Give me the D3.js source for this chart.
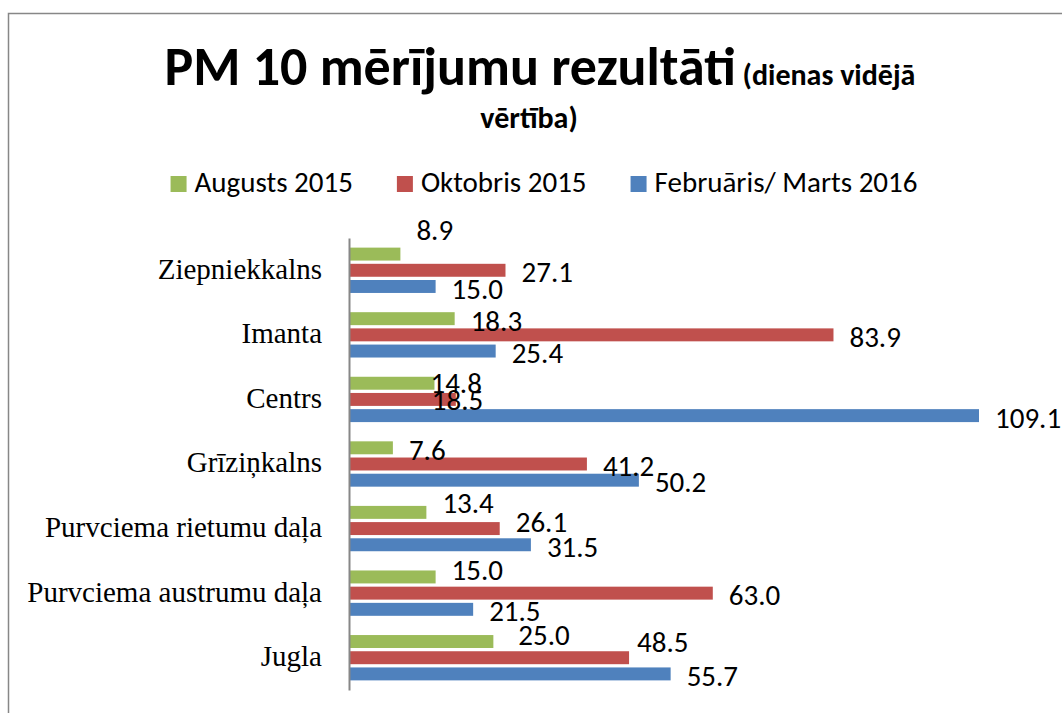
<!DOCTYPE html>
<html>
<head>
<meta charset="utf-8">
<script src="https://cdn.jsdelivr.net/npm/d3@7"></script>
<style>
  body { margin: 0; background: #fff; }
  svg { display: block; }
</style>
</head>
<body>
<svg id="chart"></svg>
<script>
// chart data
const categories = ["Ziepniekkalns", "Imanta", "Centrs", "Grīziņkalns",
  "Purvciema rietumu daļa", "Purvciema austrumu daļa", "Jugla"];
const seriesNames = ["Augusts 2015", "Oktobris 2015", "Februāris/ Marts 2016"];
const augusts = [8.9, 18.3, 14.8, 7.6, 13.4, 15.0, 25.0];
const oktobris = [27.1, 83.9, 18.5, 41.2, 26.1, 63.0, 48.5];
const februaris = [15.0, 25.4, 109.1, 50.2, 31.5, 21.5, 55.7];
const seriesValues = [augusts, oktobris, februaris];
const colors = ["#9BBB59", "#C0504D", "#4F81BD"];

// labels that were dragged away from the bar end in the original
const labelNudge = {
  "Ziepniekkalns|0": [16, -24],
  "Centrs|0": [-4, 0],
  "Centrs|1": [-24, 0],
  "Purvciema rietumu daļa|0": [16, -10],
  "Purvciema rietumu daļa|1": [16, -6.5],
  "Purvciema austrumu daļa|0": [16, -7],
  "Jugla|0": [25, -6.5],
  "Jugla|1": [8, -16]
};

const width = 1062;
const height = 713;
const sans = "Carlito, Calibri, Lato, sans-serif";
const serif = "'Times New Roman', 'Liberation Serif', serif";

const svg = d3.select("#chart")
  .attr("width", width)
  .attr("height", height);

// chart area border (runs past the right/bottom edges)
svg.append("rect")
  .attr("x", 8.5)
  .attr("y", 13.5)
  .attr("width", 1200)
  .attr("height", 900)
  .attr("fill", "none")
  .attr("stroke", "#878787")
  .attr("stroke-width", 1.5);

// title
const title = svg.append("text")
  .attr("x", 540)
  .attr("y", 85)
  .attr("text-anchor", "middle")
  .attr("font-family", sans)
  .attr("font-weight", "bold")
  .attr("fill", "#000");
title.append("tspan").attr("font-size", 54).text("PM 10 mērījumu rezultāti");
title.append("tspan").attr("font-size", 30).text(" (dienas vidējā");

svg.append("text")
  .attr("x", 529)
  .attr("y", 128)
  .attr("text-anchor", "middle")
  .attr("font-family", sans)
  .attr("font-weight", "bold")
  .attr("font-size", 30)
  .text("vērtība)");

// scales
const data = categories.map((c, i) => ({ cat: c, vals: seriesValues.map(s => s[i]) }));

const x = d3.scaleLinear()
  .domain([0, d3.max(seriesValues.flat())])
  .range([349, 979]);

const y = d3.scaleBand()
  .domain(categories)
  .range([238, 690]);

const yInner = d3.scaleBand()
  .domain(d3.range(seriesNames.length))
  .range([0, y.bandwidth()])
  .paddingInner(0.2)
  .paddingOuter(0.594);

// legend
const legend = svg.append("g").attr("font-family", sans).attr("font-size", 29);
const items = legend.selectAll("g")
  .data(seriesNames)
  .join("g");
items.append("rect")
  .attr("y", 176)
  .attr("width", 16)
  .attr("height", 16)
  .attr("fill", (d, i) => colors[i]);
items.append("text")
  .attr("x", 24)
  .attr("y", 192)
  .attr("fill", "#000")
  .text(d => d);

const gap = 44;
const widths = [];
items.each(function() {
  widths.push(24 + d3.select(this).select("text").node().getComputedTextLength());
});
const total = d3.sum(widths) + gap * (widths.length - 1);
let lx = 544 - total / 2;
items.attr("transform", (d, i) => {
  const t = `translate(${lx},0)`;
  lx += widths[i] + gap;
  return t;
});

// bars
const groups = svg.append("g")
  .selectAll("g")
  .data(data)
  .join("g")
  .attr("transform", d => `translate(0,${y(d.cat)})`);

groups.selectAll("rect")
  .data(d => d.vals.map((v, i) => ({ cat: d.cat, v: v, i: i })))
  .join("rect")
  .attr("x", x(0))
  .attr("y", d => yInner(d.i))
  .attr("width", d => x(d.v) - x(0))
  .attr("height", yInner.bandwidth())
  .attr("fill", d => colors[d.i]);

// value labels
groups.selectAll("text")
  .data(d => d.vals.map((v, i) => ({ cat: d.cat, v: v, i: i })))
  .join("text")
  .attr("x", d => x(d.v) + (labelNudge[d.cat + "|" + d.i] || [16, 2])[0])
  .attr("y", d => yInner(d.i) + yInner.bandwidth() / 2 + (labelNudge[d.cat + "|" + d.i] || [16, 2])[1])
  .attr("dy", "0.35em")
  .attr("font-family", sans)
  .attr("font-size", 29)
  .attr("fill", "#000")
  .text(d => d.v.toFixed(1));

// category axis
const axis = svg.append("g")
  .attr("transform", `translate(${x(0)},0)`)
  .call(d3.axisLeft(y).tickSize(0).tickPadding(27));
axis.select(".domain")
  .attr("stroke", "#878787")
  .attr("stroke-width", 2);
axis.selectAll("text")
  .attr("font-family", serif)
  .attr("font-size", 29)
  .attr("fill", "#000")
  .attr("dy", "0.29em");
</script>
</body>
</html>
